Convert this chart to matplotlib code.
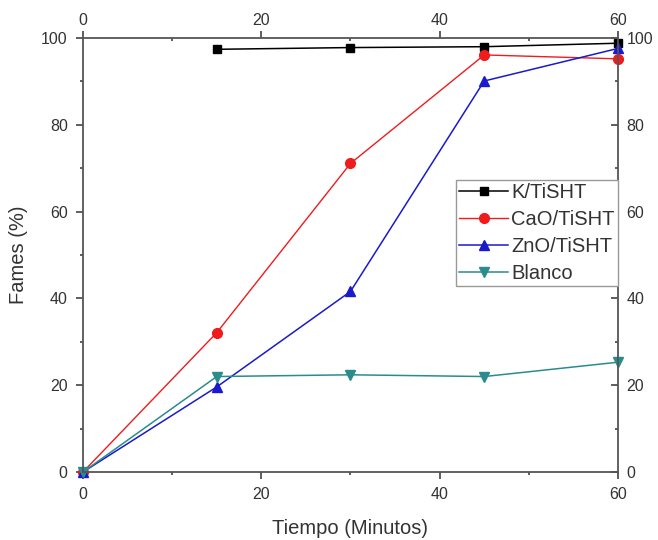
import numpy as np
import matplotlib.pyplot as plt

plt.rcParams['font.family'] = ['Liberation Sans', 'DejaVu Sans']

# tiempo de reaccion (min) y rendimiento a FAMEs (%)
t_k = [15, 30, 45, 60]
fames_k = [97.4, 97.8, 98.0, 98.8]

t_all = [0, 15, 30, 45, 60]
fames_cao = [0, 32.1, 71.1, 96.1, 95.2]
fames_zno = [0, 19.6, 41.6, 90.1, 97.6]
fames_blanco = [0, 22.0, 22.4, 22.0, 25.3]

txt = '#333333'

fig = plt.figure(figsize=(6.58, 5.40), dpi=100)
ax = fig.add_axes([0.1261, 0.1259, 0.8131, 0.8037])

ax.plot(t_k, fames_k, color='black', marker='s', ms=6, lw=1.1, label='K/TiSHT', clip_on=False)
ax.plot(t_all, fames_cao, color='#ee1c1c', marker='o', ms=7, lw=1.0, label='CaO/TiSHT', clip_on=False)
ax.plot(t_all, fames_zno, color='#1a1acc', marker='^', ms=7, lw=1.1, label='ZnO/TiSHT', clip_on=False)
ax.plot(t_all, fames_blanco, color='#2a8c8c', marker='v', ms=7, lw=1.1, label='Blanco', clip_on=False)

ax.set_xlim(0, 60)
ax.set_ylim(0, 100)
ax.set_xticks([0, 20, 40, 60])
ax.set_xticks([10, 30, 50], minor=True)
ax.set_yticks([0, 20, 40, 60, 80, 100])
ax.set_yticks([10, 30, 50, 70, 90], minor=True)

# abajo/izquierda hacia fuera, arriba/derecha hacia dentro
ax.tick_params(which='both', direction='out', top=True, right=True,
               labeltop=True, labelright=True, labelsize=11.5, colors=txt)
ax.tick_params(which='major', length=5, width=1.1, pad=6)
ax.tick_params(which='minor', length=2.5, width=1.1)
for t in ax.xaxis.get_major_ticks() + ax.xaxis.get_minor_ticks():
    t.tick2line.set_marker(3)
for t in ax.yaxis.get_major_ticks() + ax.yaxis.get_minor_ticks():
    t.tick2line.set_marker(0)
ax.tick_params(axis='x', which='major', labeltop=True, pad=6)
for t in ax.xaxis.get_major_ticks():
    t.label2.set_transform(t.label2.get_transform() +
                           plt.matplotlib.transforms.ScaledTranslation(0, -5 / 100, fig.dpi_scale_trans))
for t in ax.yaxis.get_major_ticks():
    t.label2.set_transform(t.label2.get_transform() +
                           plt.matplotlib.transforms.ScaledTranslation(-7 / 100, 0, fig.dpi_scale_trans))

for sp in ax.spines.values():
    sp.set_linewidth(1.3)
    sp.set_color('#555555')

ax.set_xlabel('Tiempo (Minutos)', fontsize=14.5, color=txt)
ax.set_ylabel('Fames (%)', fontsize=14.5, color=txt)
ax.xaxis.set_label_coords(0.5, -0.108)
ax.yaxis.set_label_coords(-0.103, 0.5)

leg = ax.legend(loc='upper right', bbox_to_anchor=(1.0, 0.673), fontsize=14.5,
                fancybox=False, edgecolor='#999999', framealpha=1,
                handlelength=2.45, handletextpad=0.15, borderpad=0.15,
                labelspacing=0.4, borderaxespad=0)
leg.get_frame().set_linewidth(1.0)
for t in leg.get_texts():
    t.set_color(txt)

fig.savefig('out.png', dpi=100)
